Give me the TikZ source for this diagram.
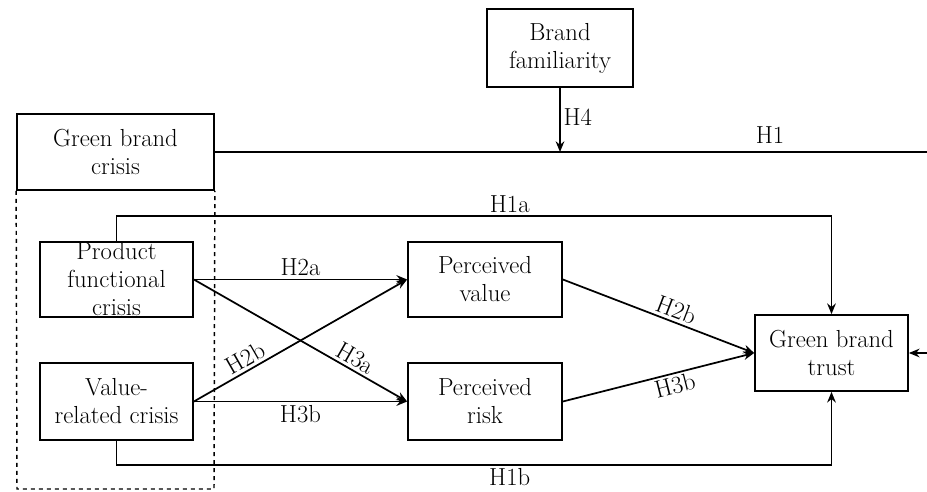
\documentclass[tikz,border=0pt]{standalone}
\usetikzlibrary{arrows.meta,calc}
\begin{document}
\begin{tikzpicture}[x=0.75pt,y=-0.75pt,
  every node/.style={font=\fontsize{18.5}{21}\selectfont},
  box/.style={draw,line width=1.3pt,inner sep=0pt,align=center},
  conn/.style={line width=1.3pt},
  arr/.style={conn,-{Stealth[length=8pt,width=6.5pt]}},
  lbl/.style={inner sep=2pt}]
\useasboundingbox (0,0) rectangle (927,492);
\clip (0,0) rectangle (927,492);
\node[box,minimum width=109.5pt,minimum height=58.5pt] (BF) at (560,48) {Brand\\familiarity};
\node[box,minimum width=147.75pt,minimum height=57pt] (GBC) at (115.5,152) {Green brand\\crisis};
\draw[dashed,line width=1.1pt] (GBC.south west) -- (17,489) -- (214,489) -- (GBC.south east);
\node[box,minimum width=114.75pt,minimum height=56.25pt] (PFC) at (116.5,279.5) {Product\\functional\\crisis};
\node[box,minimum width=114.75pt,minimum height=57.75pt] (VRC) at (116.5,401.5) {Value-\\related crisis};
\node[box,minimum width=115.5pt,minimum height=56.25pt] (PV) at (485,279.5) {Perceived\\value};
\node[box,minimum width=115.5pt,minimum height=57.75pt] (PR) at (485,401.5) {Perceived\\risk};
\node[box,minimum width=114.75pt,minimum height=57pt] (GBT) at (831.5,353) {Green brand\\trust};
\coordinate (H1a) at (116.5,216);
\coordinate (H1b) at (116.5,465);
\coordinate (R) at (960,152);
% H1
\draw[arr] (GBC.east) -- node[lbl,above,pos=0.745,yshift=4pt] {H1} (R) -- (R |- GBT.east) -- (GBT.east);
% H4
\draw[arr] (BF.south) -- node[lbl,right,pos=0.45] {H4} (BF.south |- GBC.east);
% H1a, H1b
\draw[arr] (PFC.north) -- (H1a) -- node[lbl,above,pos=0.55] {H1a} (H1a -| GBT.north) -- (GBT.north);
\draw[arr] (VRC.south) -- (H1b) -- node[lbl,below,pos=0.55] {H1b} (H1b -| GBT.south) -- (GBT.south);
% crisis -> perception
\draw[arr] (PFC.east) -- node[lbl,above] {H2a} (PV.west);
\draw[arr] (PFC.east) -- node[lbl,above,sloped,pos=0.73] {H3a} (PR.west);
\draw[arr] (VRC.east) -- node[lbl,above,sloped,pos=0.27] {H2b} (PV.west);
\draw[arr] (VRC.east) -- node[lbl,below] {H3b} (PR.west);
% perception -> trust
\draw[arr] (PV.east) -- node[lbl,above,sloped,pos=0.57] {H2b} (GBT.west);
\draw[arr] (PR.east) -- node[lbl,below,sloped,pos=0.57] {H3b} (GBT.west);
\end{tikzpicture}
\end{document}
